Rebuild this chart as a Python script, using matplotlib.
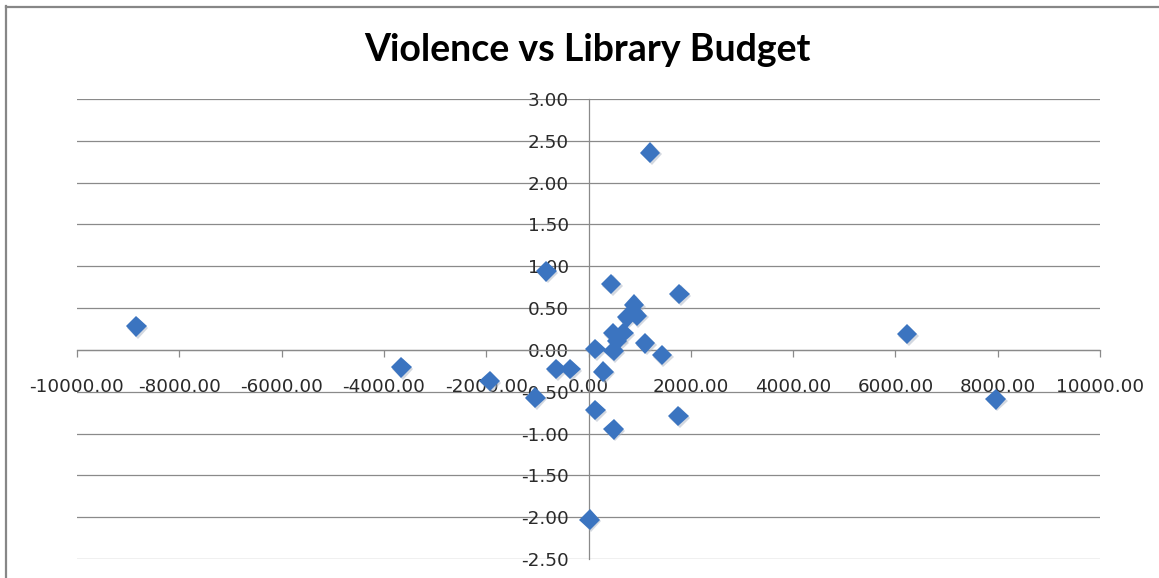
import matplotlib
matplotlib.use("Agg")
import matplotlib.pyplot as plt
import matplotlib.patheffects as pe

# Change in library budget vs change in violence index
budget_change = [-8840, -3660, -1930, -1040, -826, -631, -357, 20, 131, 131,
                 293, 443, 476, 489, 489, 555, 684, 750, 893, 945,
                 1107, 1205, 1434, 1758, 1777, 6230, 7963]
violence_change = [0.28, -0.21, -0.37, -0.57, 0.94, -0.23, -0.23, -2.03, 0.01, -0.72,
                   -0.26, 0.79, 0.20, -0.01, -0.95, 0.11, 0.20, 0.39, 0.54, 0.41,
                   0.08, 2.36, -0.06, -0.79, 0.67, 0.19, -0.59]

x_ticks = [-10000, -8000, -6000, -4000, -2000, 0, 2000, 4000, 6000, 8000, 10000]
y_ticks = [-2.5, -2.0, -1.5, -1.0, -0.5, 0.0, 0.5, 1.0, 1.5, 2.0, 2.5, 3.0]

W, H = 1159, 578
fig = plt.figure(figsize=(W / 100, H / 100), dpi=100)
fig.patch.set_facecolor("white")

# chart-area frame (top and left edges visible)
frame_col = "#878787"
fig.add_artist(plt.Line2D([6 / W, 6 / W], [0, 1 - 6 / H], transform=fig.transFigure,
                          color=frame_col, lw=1.6))
fig.add_artist(plt.Line2D([6 / W, 1], [1 - 7 / H, 1 - 7 / H], transform=fig.transFigure,
                          color=frame_col, lw=1.6))

ax = fig.add_axes([77 / W, 1 - 559 / H, 1023 / W, 460 / H])
ax.set_xlim(-10000, 10000)
ax.set_ylim(-2.5, 3.0)

grid_col = "#8a8a8a"
for y in y_ticks:
    ax.axhline(y, color=grid_col, lw=0.9, zorder=1)

for side in ("top", "right"):
    ax.spines[side].set_visible(False)
ax.spines["left"].set_position(("data", 0))
ax.spines["bottom"].set_position(("data", 0))
for side in ("left", "bottom"):
    ax.spines[side].set_color(grid_col)
    ax.spines[side].set_linewidth(0.9)

tick_font = "DejaVu Sans"
ax.set_xticks(x_ticks)
ax.set_xticklabels([f"{v:.2f}" for v in x_ticks], fontsize=13.2, family=tick_font, color="#2a2a2a")
ax.set_yticks(y_ticks)
ax.set_yticklabels([f"{v:.2f}" for v in y_ticks], fontsize=13.2, family=tick_font, color="#2a2a2a")
ax.tick_params(axis="x", direction="out", length=5, width=0.9, color=grid_col, pad=15.5)
ax.tick_params(axis="y", length=0, pad=14)

ax.plot(budget_change, violence_change, linestyle="none", marker="D", ms=10.5,
        mew=0, color="#3b74c0", zorder=5,
        path_effects=[pe.SimplePatchShadow(offset=(1.0, -1.3), shadow_rgbFace="#a9b3c2", alpha=0.5),
                      pe.Normal()])

fig.text(587 / W, 1 - 50 / H, "Violence vs Library Budget", ha="center", va="center",
         fontsize=27, fontweight="bold", family="Lato", color="black")

fig.savefig("out.png", dpi=100, facecolor="white")
